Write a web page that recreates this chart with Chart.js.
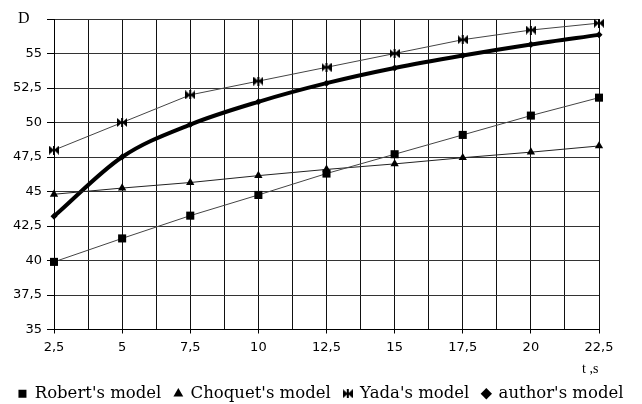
<!DOCTYPE html>
<html>
<head>
<meta charset="utf-8">
<script src="https://cdn.jsdelivr.net/npm/chart.js@4/dist/chart.umd.min.js"></script>
<style>
	html, body { margin: 0; padding: 0; background: #fff; }
	#marco { width: 642px; height: 404px; }
</style>
</head>
<body>
<div id="marco"><canvas id="grafico"></canvas></div>
<script>
// tiempos (t, s) y valores de D para cada modelo
var tiempos = [2.5, 5, 7.5, 10, 12.5, 15, 17.5, 20, 22.5];
var robert = [39.9, 41.6, 43.25, 44.75, 46.3, 47.7, 49.1, 50.5, 51.8];
var choquet = [44.8, 45.25, 45.65, 46.15, 46.6, 47.0, 47.45, 47.85, 48.3];
var yada = [48, 50, 52, 53, 54, 55, 56, 56.7, 57.2];
var autor = [43.2, 47.5, 49.85, 51.5, 52.85, 53.95, 54.85, 55.65, 56.35];
var nombres = ["Robert's model", "Choquet's model", "Yada's model", "author's model"];
var etiquetaY = 'D';
var etiquetaX = 't ,s';

function puntos(valores) {
	return tiempos.map(function (t, i) { return { x: t, y: valores[i] }; });
}

function coma(v) {
	return String(v).replace('.', ',');
}

// marcador "pajarita" para Yada
function pajarita(w, h) {
	var c = document.createElement('canvas');
	c.width = w;
	c.height = h;
	var g = c.getContext('2d');
	g.fillStyle = '#000';
	g.beginPath(); g.moveTo(0, 0); g.lineTo(w / 2, h / 2); g.lineTo(0, h); g.closePath(); g.fill();
	g.beginPath(); g.moveTo(w, 0); g.lineTo(w / 2, h / 2); g.lineTo(w, h); g.closePath(); g.fill();
	g.fillRect(w / 2 - 1, 0, 2, h);
	return c;
}

var textos = {
	id: 'textos',
	afterDraw: function (chart) {
		var ctx = chart.ctx;
		ctx.save();
		ctx.fillStyle = '#000';
		ctx.textBaseline = 'alphabetic';
		ctx.font = '16px "Liberation Serif"';
		ctx.textAlign = 'left';
		ctx.fillText(etiquetaY, 18, 23);
		ctx.font = '14px "Liberation Serif"';
		ctx.fillText(etiquetaX, 582, 373);
		ctx.restore();
	}
};

var contexto = document.getElementById('grafico').getContext('2d');

var data = {
	datasets: [{
		label: nombres[0],
		data: puntos(robert),
		borderColor: '#444',
		backgroundColor: '#000',
		borderWidth: 1,
		pointStyle: 'rect',
		pointRadius: 5.7,
		pointBorderColor: '#000',
		pointBorderWidth: 0,
		tension: 0,
		clip: false
	}, {
		label: nombres[1],
		data: puntos(choquet),
		borderColor: '#222',
		backgroundColor: '#000',
		borderWidth: 1,
		pointStyle: 'triangle',
		pointRadius: 4.8,
		pointBorderColor: '#000',
		pointBorderWidth: 0,
		tension: 0,
		clip: false
	}, {
		label: nombres[2],
		data: puntos(yada),
		borderColor: '#444',
		backgroundColor: '#000',
		borderWidth: 1,
		pointStyle: pajarita(10, 9),
		pointRadius: 5,
		tension: 0,
		clip: false
	}, {
		label: nombres[3],
		data: puntos(autor),
		borderColor: '#000',
		backgroundColor: '#000',
		borderWidth: 4,
		pointStyle: 'rectRot',
		pointRadius: 3.5,
		pointBorderWidth: 0,
		cubicInterpolationMode: 'monotone',
		clip: false
	}]
};

var grafico = new Chart(contexto, {
	type: 'line',
	data: data,
	plugins: [textos],
	options: {
		responsive: true,
		maintainAspectRatio: false,
		animation: false,
		layout: { padding: { left: 0, right: 0, top: 19, bottom: -8 } },
		plugins: {
			tooltip: { enabled: false },
			legend: {
				position: 'bottom',
				labels: {
					usePointStyle: true,
					boxWidth: 8,
					boxHeight: 8,
					padding: 13,
					color: '#000',
					font: { family: '"DejaVu Serif"', size: 16.5 }
				}
			}
		},
		scales: {
			x: {
				type: 'linear',
				min: 2.5,
				max: 22.5,
				afterFit: function (s) { s.height = 43; },
				border: { color: '#000', width: 1 },
				grid: {
					color: '#111',
					tickLength: 4,
					tickColor: function (c) {
						return (c.tick && Math.abs(c.tick.value / 2.5 - Math.round(c.tick.value / 2.5)) < 1e-6) ? '#000' : 'rgba(0,0,0,0)';
					}
				},
				ticks: {
					stepSize: 1.25,
					autoSkip: false,
					maxRotation: 0,
					padding: 6,
					color: '#000',
					font: { family: '"DejaVu Sans"', size: 13 },
					callback: function (v) {
						return Math.abs(v / 2.5 - Math.round(v / 2.5)) < 1e-6 ? coma(v) : '';
					}
				}
			},
			y: {
				min: 35,
				max: 57.5,
				afterFit: function (s) { s.width = 54; },
				border: { color: '#000', width: 1 },
				grid: { color: '#333', tickLength: 7, tickColor: '#000' },
				ticks: {
					stepSize: 2.5,
					padding: 5,
					color: '#000',
					font: { family: '"DejaVu Sans"', size: 13 },
					callback: function (v) { return v === 57.5 ? '' : coma(v); }
				}
			},
			margen: {
				position: 'right',
				min: 0,
				max: 1,
				afterFit: function (s) { s.width = 43; },
				border: { display: false },
				grid: { display: false },
				ticks: { display: false }
			}
		}
	}
});
</script>
</body>
</html>
